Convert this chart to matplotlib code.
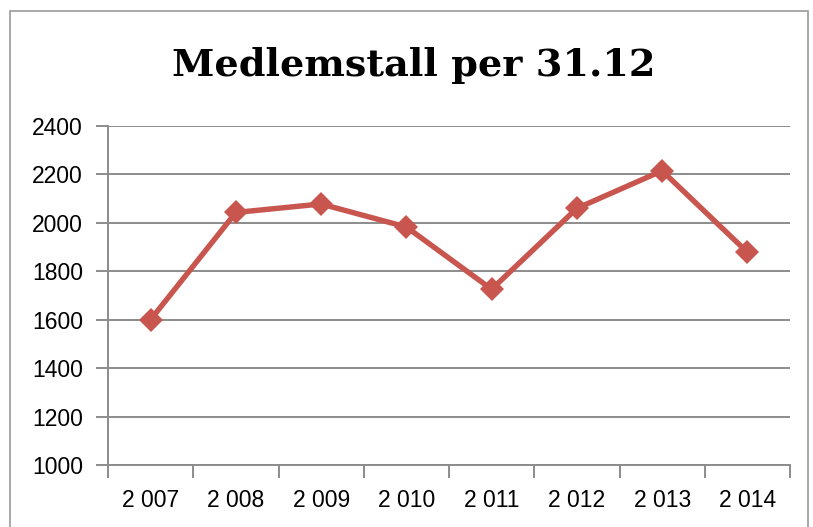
import matplotlib
matplotlib.use("Agg")
import matplotlib.pyplot as plt
import numpy as np
from matplotlib.patches import Rectangle

# data
years = ["2 007", "2 008", "2 009", "2 010", "2 011", "2 012", "2 013", "2 014"]
members = [1600, 2042, 2077, 1982, 1725, 2059, 2214, 1878]
y_ticks = [1000, 1200, 1400, 1600, 1800, 2000, 2200, 2400]

W, H = 813, 527
fig = plt.figure(figsize=(W / 100, H / 100), dpi=100)

# chart area border (bottom edge is cut off in the reference)
fig.patches.append(Rectangle((9.5 / W, -0.05), (808 - 9.5) / W, 1.05 - 10.5 / H,
                             transform=fig.transFigure, fill=False,
                             edgecolor="#9a9a9a", linewidth=1.2))

left, right, top, bottom = 108 / W, 790 / W, 125.7 / H, 465 / H
ax = fig.add_axes([left, 1 - bottom, right - left, bottom - top])

x = np.arange(len(years))
ax.plot(x, members, color="#C8564F", linewidth=3.9, marker="D",
        markersize=12, markeredgewidth=0, zorder=3, solid_joinstyle="miter")

ax.set_xlim(-0.5, len(years) - 0.5)
ax.set_ylim(y_ticks[0], y_ticks[-1])
ax.set_yticks(y_ticks)
ax.set_yticklabels([str(v) for v in y_ticks])
ax.grid(axis="y", color="#8c8c8c", linewidth=1.4)
ax.set_axisbelow(True)

ax.set_xticks(x)
ax.set_xticklabels(years)
ax.set_xticks(np.arange(len(years) + 1) - 0.5, minor=True)
ax.tick_params(axis="x", which="major", length=0, pad=17)
ax.tick_params(axis="x", which="minor", length=9, width=1.4, color="#8c8c8c")
ax.tick_params(axis="y", length=9, width=1.4, color="#8c8c8c", pad=9)

for lab in ax.get_xticklabels() + ax.get_yticklabels():
    lab.set_fontfamily("Liberation Sans")
    lab.set_fontsize(16.5)
    lab.set_color("black")

for side in ["top", "right"]:
    ax.spines[side].set_visible(False)
for side in ["left", "bottom"]:
    ax.spines[side].set_color("#8c8c8c")
    ax.spines[side].set_linewidth(1.4)

fig.text(414 / W, 1 - 65 / H, "Medlemstall per 31.12", ha="center", va="center",
         fontfamily="DejaVu Serif", fontweight="bold", fontsize=27.5)

fig.savefig("out.png", dpi=100)
